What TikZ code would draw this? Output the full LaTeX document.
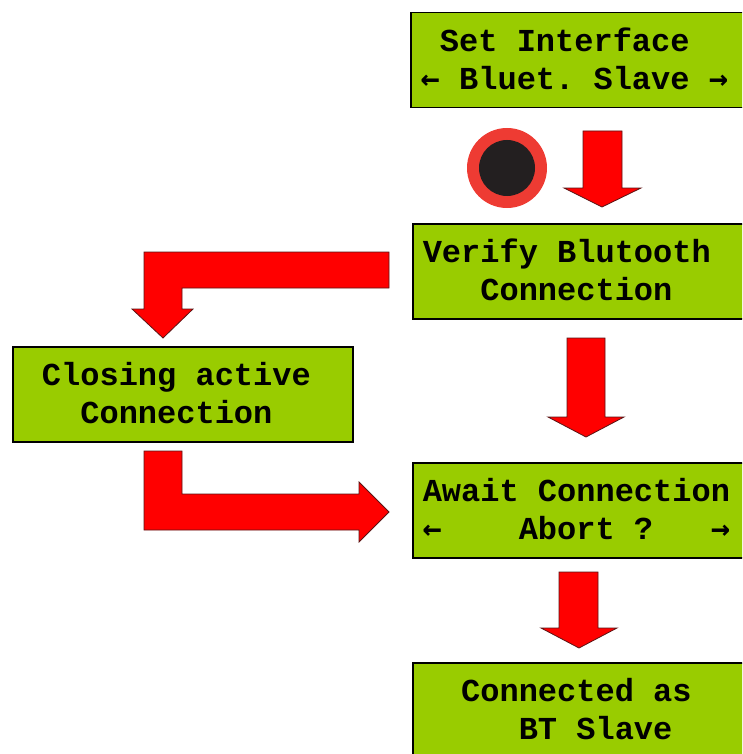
\documentclass[tikz,border=0pt]{standalone}
\usepackage{fontspec}
\newfontfamily\lcdfont{Liberation Mono}
\newfontfamily\lcdarrowfont{DejaVu Sans Mono}
\definecolor{lcdgreen}{RGB}{153,204,0}
\definecolor{arrowred}{RGB}{255,0,0}
\definecolor{arrowline}{RGB}{90,20,20}
\definecolor{ringred}{RGB}{238,59,51}
\definecolor{dotdark}{RGB}{35,31,32}
\newcommand\lcdlines[3]{\vbox to 95pt{\offinterlineskip\hsize=#1\relax
  \kern38.5pt\hbox to\hsize{\kern10pt\smash{#2}\hss}%
  \kern38pt\hbox to\hsize{\kern10pt\smash{#3}\hss}\vss}}
\newcommand\lcdleft{\makebox[19.2pt][c]{\lcdarrowfont\bfseries ←}}
\newcommand\lcdright{\makebox[19.2pt][c]{\lcdarrowfont\bfseries →}}
\tikzset{
  lcd/.style={draw=black, line width=1.5pt, fill=lcdgreen, inner sep=0pt,
    anchor=north west, rectangle,
    font={\lcdfont\bfseries\fontsize{32}{38}\selectfont\frenchspacing}},
  blockarrow/.style={fill=arrowred, draw=arrowline, line width=0.8pt, line join=miter}
}
\begin{document}
\begin{tikzpicture}[x=1pt,y=-1pt]
\useasboundingbox (0,0) rectangle (742,754);
\clip (0,0) rectangle (742,754);
% LCD boxes
\node[lcd] (b1) at (410,12) {\lcdlines{360pt}{~Set Interface}{\lcdleft~Bluet.~Slave~\lcdright}};
\node[lcd] (b2) at (412,223) {\lcdlines{360pt}{Verify Blutooth}{~~~Connection}};
\node[lcd] (b3) at (12,346) {\lcdlines{340pt}{~Closing active}{~~~Connection}};
\node[lcd] (b4) at (412,462) {\lcdlines{360pt}{Await Connection}{\lcdleft~~~~Abort~?~~~\lcdright}};
\node[lcd] (b5) at (412,662) {\lcdlines{360pt}{~~Connected as}{~~~~~BT Slave}};
% stop/record symbol
\fill[ringred] (507,168) circle (40);
\fill[dotdark] (507,168) circle (28);
% straight block arrows
\draw[blockarrow] (583,131) -- (622,131) -- (622,188) -- (641,188) -- (602,207)
  -- (564,188) -- (583,188) -- cycle;
\draw[blockarrow] (567,338) -- (605,338) -- (605,417) -- (624,417) -- (586,437)
  -- (548,417) -- (567,417) -- cycle;
\draw[blockarrow] (559,572) -- (598,572) -- (598,628) -- (617,628) -- (579,648)
  -- (541,628) -- (559,628) -- cycle;
% bent block arrows
\draw[blockarrow] (389,252) -- (144,252) -- (144,309) -- (132,309) -- (163,338)
  -- (193,309) -- (182,309) -- (182,288) -- (389,288) -- cycle;
\draw[blockarrow] (144,451) -- (182,451) -- (182,494) -- (359,494) -- (359,482)
  -- (389,512) -- (359,542) -- (359,530) -- (144,530) -- cycle;
\end{tikzpicture}
\end{document}
